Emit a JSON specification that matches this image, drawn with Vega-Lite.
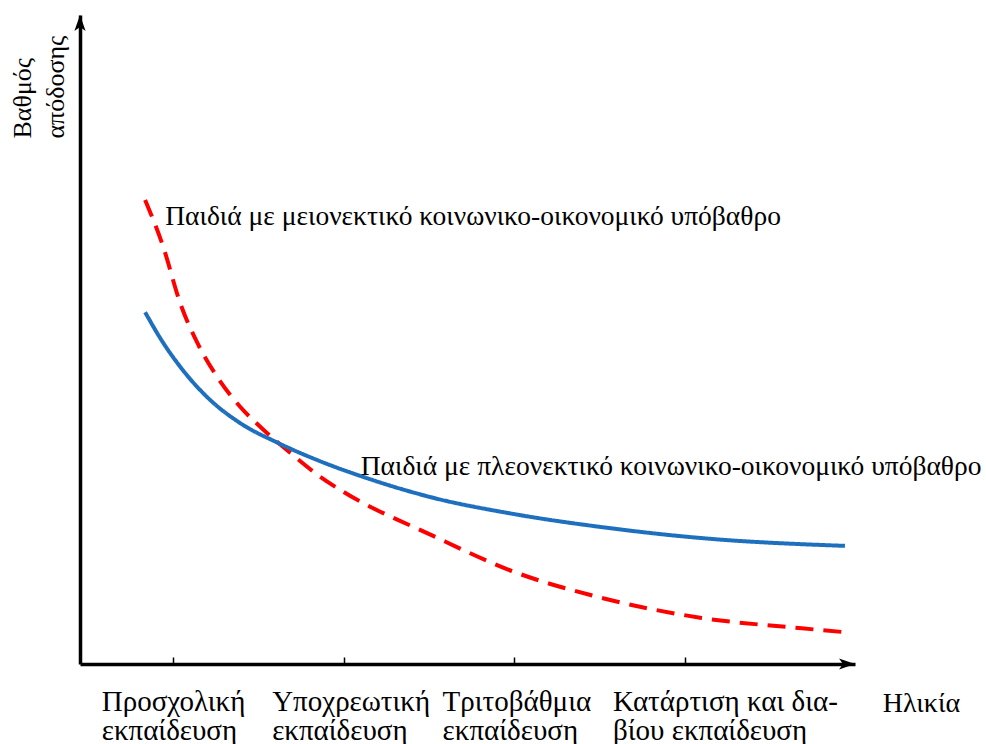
{
  "$schema": "https://vega.github.io/schema/vega-lite/v6.json",
  "width": 775,
  "height": 649,
  "autosize": {"type": "none"},
  "padding": {"left": 80, "top": 15, "right": 131, "bottom": 80},
  "background": "white",
  "config": {"view": {"stroke": null}, "font": "Liberation Serif"},
  "datasets": {
    "curves": [
      {"group": "μειονεκτικό", "x": 0.835, "y": 7.15},
      {"group": "μειονεκτικό", "x": 0.941, "y": 6.43},
      {"group": "μειονεκτικό", "x": 1.041, "y": 5.56},
      {"group": "μειονεκτικό", "x": 1.141, "y": 4.95},
      {"group": "μειονεκτικό", "x": 1.259, "y": 4.42},
      {"group": "μειονεκτικό", "x": 1.394, "y": 3.96},
      {"group": "μειονεκτικό", "x": 1.529, "y": 3.61},
      {"group": "μειονεκτικό", "x": 1.688, "y": 3.25},
      {"group": "μειονεκτικό", "x": 1.865, "y": 2.88},
      {"group": "μειονεκτικό", "x": 2.0, "y": 2.65},
      {"group": "μειονεκτικό", "x": 2.512, "y": 1.99},
      {"group": "μειονεκτικό", "x": 3.0, "y": 1.42},
      {"group": "μειονεκτικό", "x": 3.512, "y": 1.02},
      {"group": "μειονεκτικό", "x": 4.1, "y": 0.71},
      {"group": "μειονεκτικό", "x": 4.688, "y": 0.55},
      {"group": "μειονεκτικό", "x": 4.941, "y": 0.49},
      {"group": "πλεονεκτικό", "x": 0.835, "y": 5.42},
      {"group": "πλεονεκτικό", "x": 0.941, "y": 4.95},
      {"group": "πλεονεκτικό", "x": 1.041, "y": 4.58},
      {"group": "πλεονεκτικό", "x": 1.2, "y": 4.11},
      {"group": "πλεονεκτικό", "x": 1.394, "y": 3.71},
      {"group": "πλεονεκτικό", "x": 1.612, "y": 3.41},
      {"group": "πλεονεκτικό", "x": 1.847, "y": 3.14},
      {"group": "πλεονεκτικό", "x": 2.118, "y": 2.88},
      {"group": "πλεονεκτικό", "x": 2.512, "y": 2.57},
      {"group": "πλεονεκτικό", "x": 3.0, "y": 2.31},
      {"group": "πλεονεκτικό", "x": 3.512, "y": 2.11},
      {"group": "πλεονεκτικό", "x": 4.1, "y": 1.94},
      {"group": "πλεονεκτικό", "x": 4.941, "y": 1.82}
    ],
    "labels": [
      {"text": "Παιδιά με μειονεκτικό κοινωνικο-οικονομικό υπόβαθρο", "x": 0.953, "y": 6.89},
      {"text": "Παιδιά με πλεονεκτικό κοινωνικο-οικονομικό υπόβαθρο", "x": 2.1, "y": 3.04}
    ],
    "arrows": [
      {"dir": "up", "x": 0.453, "y": 10},
      {"dir": "right", "x": 5.0, "y": 0}
    ]
  },
  "layer": [
    {
      "data": {"name": "curves"},
      "mark": {"type": "line", "interpolate": "monotone", "strokeWidth": 4},
      "encoding": {
        "x": {
          "field": "x", "type": "quantitative",
          "scale": {"domain": [0.453, 5.0], "nice": false, "zero": false},
          "axis": {
            "values": [1, 2, 3, 4],
            "grid": false,
            "domainColor": "black", "domainWidth": 3.5,
            "tickColor": "black", "tickWidth": 1.5, "tickSize": -7,
            "labelExpr": "datum.value == 1 ? ['Προσχολική', 'εκπαίδευση'] : datum.value == 2 ? ['Υποχρεωτική', 'εκπαίδευση'] : datum.value == 3 ? ['Τριτοβάθμια', 'εκπαίδευση'] : ['Κατάρτιση και δια-', 'βίου εκπαίδευση']",
            "labelAlign": "left", "labelOffset": -72,
            "labelBaseline": "alphabetic", "labelPadding": 53,
            "labelFont": "Liberation Serif", "labelFontSize": 29, "labelColor": "black",
            "labelLineHeight": 29, "labelFlush": false, "labelOverlap": false, "labelLimit": 0,
            "title": "Ηλικία",
            "titleFont": "Liberation Serif", "titleFontSize": 28, "titleFontWeight": "normal", "titleColor": "black",
            "titleX": 841, "titleY": 47, "titleAlign": "center", "titleBaseline": "alphabetic"
          }
        },
        "y": {
          "field": "y", "type": "quantitative",
          "scale": {"domain": [0, 10], "nice": false, "zero": true},
          "axis": {
            "grid": false, "ticks": false, "labels": false,
            "domainColor": "black", "domainWidth": 3.5,
            "title": ["Βαθμός", "απόδοσης"],
            "titleFont": "Liberation Serif", "titleFontSize": 26, "titleFontWeight": "normal", "titleColor": "black",
            "titleAngle": -90, "titleAlign": "left", "titleBaseline": "alphabetic",
            "titleLineHeight": 33,
            "titleX": -50, "titleY": 123
          }
        },
        "color": {
          "field": "group", "type": "nominal",
          "scale": {"domain": ["μειονεκτικό", "πλεονεκτικό"], "range": ["#ff0000", "#1f6fbf"]},
          "legend": null
        },
        "strokeDash": {
          "field": "group", "type": "nominal",
          "scale": {"domain": ["μειονεκτικό", "πλεονεκτικό"], "range": [[18, 10], [1, 0]]},
          "legend": null
        }
      }
    },
    {
      "data": {"name": "labels"},
      "mark": {"type": "text", "align": "left", "baseline": "middle", "fontSize": 27.5, "font": "Liberation Serif", "color": "black"},
      "encoding": {
        "x": {"field": "x", "type": "quantitative"},
        "y": {"field": "y", "type": "quantitative"},
        "text": {"field": "text"}
      }
    },
    {
      "data": {"name": "arrows"},
      "mark": {"type": "point", "filled": true, "color": "black", "opacity": 1, "size": 256, "clip": false},
      "encoding": {
        "x": {"field": "x", "type": "quantitative"},
        "y": {"field": "y", "type": "quantitative"},
        "shape": {
          "field": "dir", "type": "nominal",
          "scale": {"domain": ["up", "right"], "range": ["M0,0 L-0.7,2 L0,1.5 L0.7,2 Z", "M0,0 L-2,-0.7 L-1.5,0 L-2,0.7 Z"]},
          "legend": null
        }
      }
    }
  ]
}
